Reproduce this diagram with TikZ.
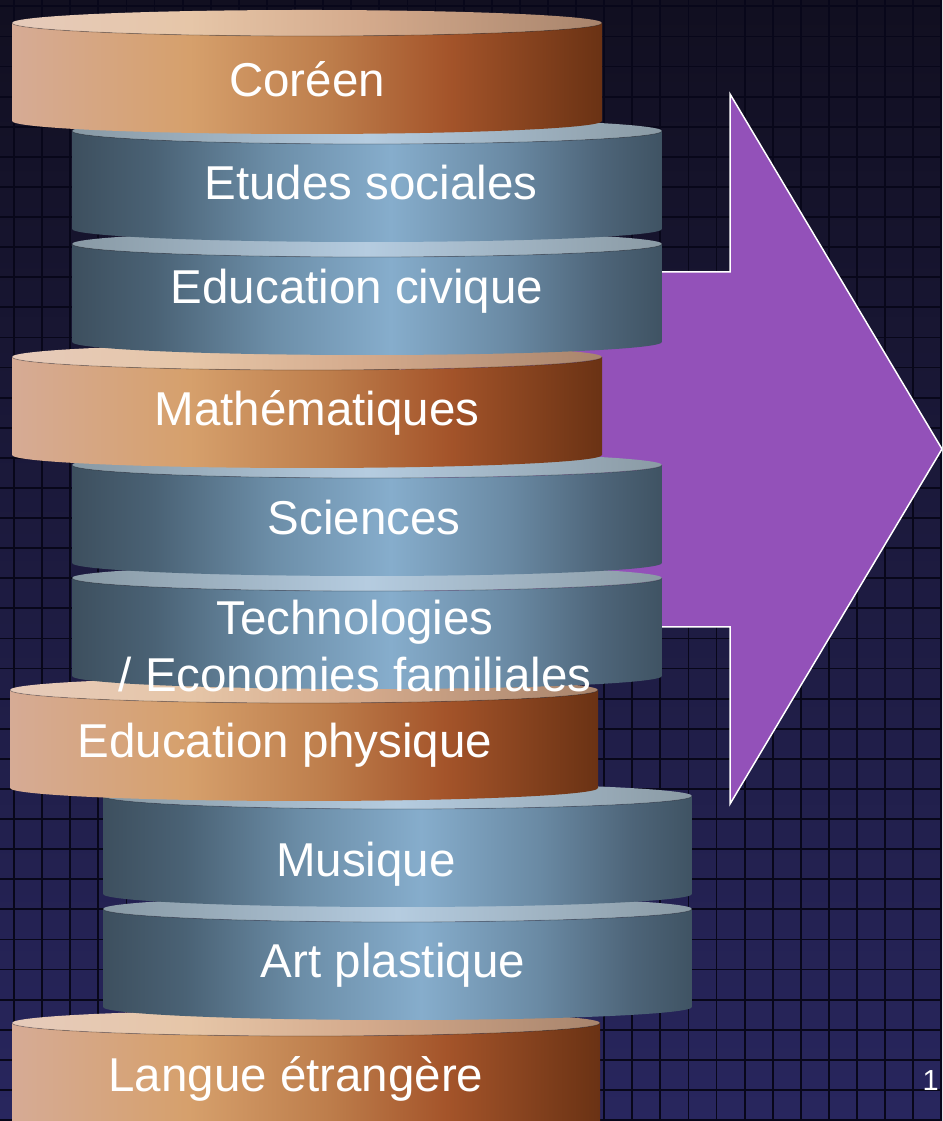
\documentclass[tikz,border=0pt]{standalone}
\usepackage{fontspec}
\setmainfont{Liberation Sans}
\definecolor{bgtop}{HTML}{110F20}
\definecolor{bgmid}{HTML}{1A1838}
\definecolor{bgbot}{HTML}{28265E}
\definecolor{gridline}{HTML}{08071A}
\definecolor{arrowpurple}{HTML}{9351B9}
% brown side
\definecolor{bs0}{HTML}{D6AB95}
\definecolor{bs1}{HTML}{D6A06C}
\definecolor{bs2}{HTML}{BD7D4B}
\definecolor{bs3}{HTML}{A4542A}
\definecolor{bs4}{HTML}{6A3214}
% brown top
\definecolor{bt0}{HTML}{E6CBBB}
\definecolor{bt1}{HTML}{E6C6A8}
\definecolor{bt2}{HTML}{D4AA8C}
\definecolor{bt3}{HTML}{A8846C}
% blue side
\definecolor{ls0}{HTML}{3D4F5E}
\definecolor{ls1}{HTML}{4A6275}
\definecolor{ls2}{HTML}{6C8EA8}
\definecolor{ls3}{HTML}{86ADCC}
\definecolor{ls4}{HTML}{6A8AA4}
\definecolor{ls5}{HTML}{4D6478}
\definecolor{ls6}{HTML}{3F5363}
% blue top
\definecolor{lt0}{HTML}{8899A4}
\definecolor{lt1}{HTML}{B5CCE0}
\definecolor{lt2}{HTML}{8A9AA4}
\pgfdeclarehorizontalshading{brownside}{100bp}{color(0bp)=(bs0); color(25bp)=(bs0); color(40bp)=(bs1); color(52bp)=(bs2); color(62bp)=(bs3); color(75bp)=(bs4); color(100bp)=(bs4)}
\pgfdeclarehorizontalshading{browntop}{100bp}{color(0bp)=(bt0); color(25bp)=(bt0); color(40bp)=(bt1); color(55bp)=(bt2); color(75bp)=(bt3); color(100bp)=(bt3)}
\pgfdeclarehorizontalshading{blueside}{100bp}{color(0bp)=(ls0); color(25bp)=(ls0); color(32bp)=(ls1); color(42bp)=(ls2); color(52bp)=(ls3); color(62bp)=(ls4); color(70bp)=(ls5); color(75bp)=(ls6); color(100bp)=(ls6)}
\pgfdeclarehorizontalshading{bluetop}{100bp}{color(0bp)=(lt0); color(25bp)=(lt0); color(50bp)=(lt1); color(75bp)=(lt2); color(100bp)=(lt2)}
\tikzset{
  label/.style={text=white, font=\fontsize{47.5}{50}\selectfont, anchor=base, inner sep=0pt},
  rimline/.style={draw=black, draw opacity=0.25, line width=0.8pt},
  bigarrow/.style={fill=arrowpurple, draw=white, line width=1.5pt, line join=miter},
  gridstyle/.style={draw=gridline, line width=1.8pt}
}
\newcommand{\mycyl}[5]{%
  \pgfmathsetmacro\cylcx{(#1+#2)/2}%
  \pgfmathsetmacro\cylrx{(#2-#1)/2}%
  \pgfmathsetmacro\cylyt{1121-#3}%
  \pgfmathsetmacro\cylyb{1121-#3-98}%
  \path[shading=#4] (#1,\cylyt) -- (#1,\cylyb) arc[start angle=180,end angle=360,x radius=\cylrx pt,y radius=13pt] -- (#2,\cylyt) arc[start angle=0,end angle=-180,x radius=\cylrx pt,y radius=13pt] -- cycle;
  \path[shading=#5] (\cylcx,\cylyt) ellipse[x radius=\cylrx pt,y radius=13pt];
  \path[rimline] (#1,\cylyt) arc[start angle=180,end angle=360,x radius=\cylrx pt,y radius=13pt];
}
\begin{document}
\begin{tikzpicture}[x=1pt,y=1pt]
\useasboundingbox (0,0) rectangle (942,1121);
\clip (0,0) rectangle (942,1121);
% background
\fill[top color=bgtop, middle color=bgmid, bottom color=bgbot] (0,0) rectangle (942,1121);
\foreach \i in {0,...,33} { \path[gridstyle] ({14+28.1*\i},0) -- ({14+28.1*\i},1121); }
\foreach \j in {0,...,37} { \path[gridstyle] (0,{1121-6.4-30.1*\j}) -- (942,{1121-6.4-30.1*\j}); }
% arrow
\path[bigarrow] (400,{1121-272}) -- (730,{1121-272}) -- (730,{1121-94}) -- (942,{1121-449}) -- (730,{1121-804}) -- (730,{1121-627}) -- (400,{1121-627}) -- cycle;
% cylinders, bottom to top
\mycyl{12}{600}{1023}{brownside}{browntop}
\mycyl{103}{692}{909}{blueside}{bluetop}
\mycyl{103}{692}{796}{blueside}{bluetop}
\mycyl{10}{598}{690}{brownside}{browntop}
\mycyl{72}{662}{578}{blueside}{bluetop}
\mycyl{72}{662}{465}{blueside}{bluetop}
\mycyl{12}{602}{357}{brownside}{browntop}
\mycyl{72}{662}{244}{blueside}{bluetop}
\mycyl{72}{662}{131}{blueside}{bluetop}
\mycyl{12}{602}{23}{brownside}{browntop}
% labels
\node[label] (t1) at (307,{1121-97}) {Coréen};
\node[label] (t2) at (371,{1121-200}) {Etudes sociales};
\node[label] (t3) at (357,{1121-304}) {Education civique};
\node[label] (t4) at (317,{1121-426}) {Mathématiques};
\node[label] (t5) at (364,{1121-535}) {Sciences};
\node[label] (t6a) at (355,{1121-635}) {Technologies};
\node[label] (t6b) at (355,{1121-692}) {/ Economies familiales};
\node[label] (t7) at (285,{1121-758}) {Education physique};
\node[label] (t8) at (366,{1121-877}) {Musique};
\node[label] (t9) at (393,{1121-978}) {Art plastique};
\node[label] (t10) at (296,{1121-1092}) {Langue étrangère};
\node[text=white, font=\fontsize{29}{32}\selectfont, anchor=base east, inner sep=0pt] (pagenum) at (939,{1121-1091}) {1};
\end{tikzpicture}
\end{document}
